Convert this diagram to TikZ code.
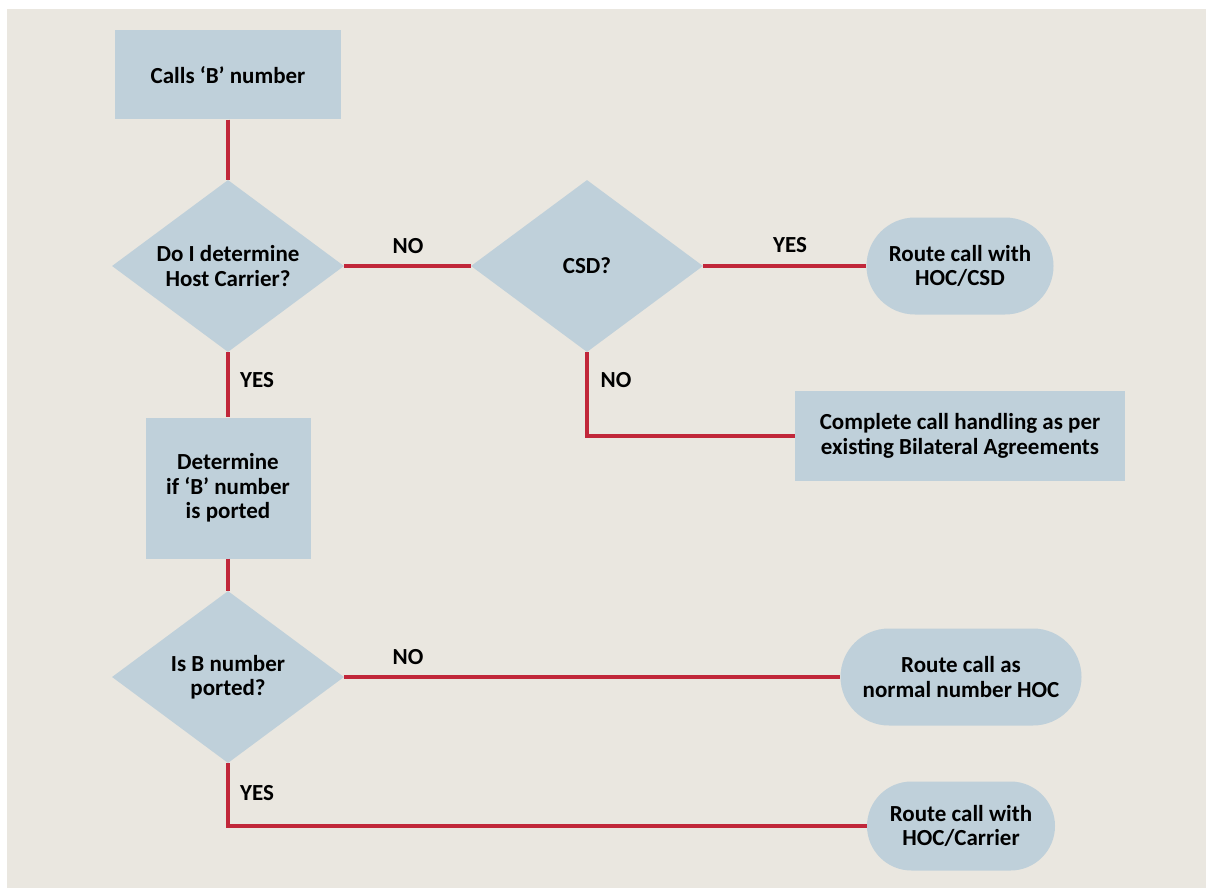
\documentclass[tikz,border=0pt]{standalone}
\usepackage{fontspec}
\setmainfont{Carlito}
\usetikzlibrary{shapes.geometric,shapes.misc}
\definecolor{panel}{HTML}{EAE7E0}
\definecolor{boxfill}{HTML}{BFD0DA}
\definecolor{linkred}{HTML}{C1273A}
\tikzset{
  txt/.style={font=\bfseries\fontsize{23}{24.5}\selectfont, text=black, align=center},
  stepbox/.style={txt, rectangle, fill=boxfill, inner sep=0pt},
  decision/.style={txt, diamond, aspect=1.35, fill=boxfill, inner sep=0pt,
    minimum width=232pt, minimum height=172pt},
  terminal/.style={txt, rounded rectangle, fill=boxfill, inner sep=0pt,
    minimum height=97pt},
  link/.style={draw=linkred, line width=3.2pt},
  lbl/.style={txt, inner sep=0pt}
}
\begin{document}
\begin{tikzpicture}[x=1pt,y=-1pt]
\useasboundingbox (0,0) rectangle (1206,888);
\fill[white] (0,0) rectangle (1206,888);
\fill[panel] (7,9) rectangle (1206,888);

% centres of the shapes
\coordinate (cCalls) at (228,75);
\coordinate (cHost) at (228,266);
\coordinate (cDet) at (228,488);
\coordinate (cPorted) at (228,677);
\coordinate (cCsd) at (587,266);
\coordinate (cHocCsd) at (960,266);
\coordinate (cBilat) at (960,436);
\coordinate (cNormal) at (961,677);
\coordinate (cCarrier) at (961,826);

% main column
\node[stepbox, minimum width=226pt, minimum height=89pt] (calls) at (cCalls) {Calls ‘B’ number};
\node[decision] (host) at (cHost) {Do I determine\\Host Carrier?};
\node[stepbox, minimum width=165pt, minimum height=141pt] (det) at (cDet) {Determine\\if ‘B’ number\\is ported};
\node[decision] (ported) at (cPorted) {Is B number\\ported?};

% CSD branch
\node[decision] (csd) at (cCsd) {CSD?};
\node[terminal, minimum width=187pt] (hoccsd) at (cHocCsd) {Route call with\\HOC/CSD};
\node[stepbox, minimum width=330pt, minimum height=90pt] (bilat) at (cBilat) {Complete call handling as per\\existing Bilateral Agreements};

% porting outcomes
\node[terminal, minimum width=241pt] (normal) at (cNormal) {Route call as\\normal number HOC};
\node[terminal, minimum width=188pt, minimum height=89pt] (carrier) at (cCarrier) {Route call with\\HOC/Carrier};

% connectors
\path[link] (calls.south) -- (host.north);
\path[link] (host.east) -- (csd.west);
\path[link] (csd.east) -- (hoccsd.west);
\path[link] (csd.south) |- (bilat.west);
\path[link] (host.south) -- (det.north);
\path[link] (det.south) -- (ported.north);
\path[link] (ported.east) -- (normal.west);
\path[link] (ported.south) |- (carrier.west);

% branch labels
\node[lbl] (l1) at (408,246) {NO};
\node[lbl] (l2) at (790,245) {YES};
\node[lbl] (l3) at (616,380) {NO};
\node[lbl] (l4) at (257,380) {YES};
\node[lbl] (l5) at (408,657) {NO};
\node[lbl] (l6) at (257,793) {YES};
\end{tikzpicture}
\end{document}
